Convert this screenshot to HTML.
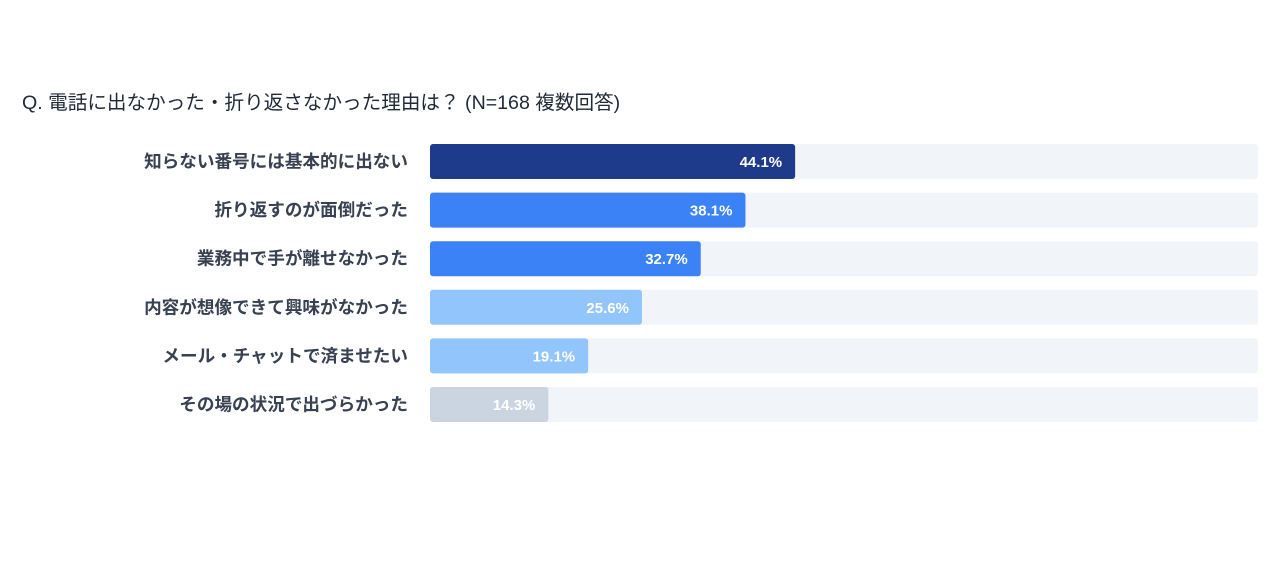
<!DOCTYPE html>
<html><head><meta charset="utf-8"><style>
body{margin:0;width:1280px;height:561px;background:#fff;font-family:"Liberation Sans","Noto Sans CJK JP",sans-serif;overflow:hidden;position:relative}
#title{position:absolute;left:22px;top:86px;font-size:19.6px;color:#1f2937;white-space:nowrap}
</style></head><body>
<div id="title">Q. 電話に出なかった・折り返さなかった理由は？ (N=168 複数回答)</div>
<svg id="chart" width="1280" height="561" style="position:absolute;left:0;top:0"></svg>
<script>
const categories=["知らない番号には基本的に出ない","折り返すのが面倒だった","業務中で手が離せなかった","内容が想像できて興味がなかった","メール・チャットで済ませたい","その場の状況で出づらかった"];
const values=[44.1,38.1,32.7,25.6,19.1,14.3];
const colors=["#1e3a8a","#3b82f6","#3b82f6","#93c5fd","#93c5fd","#cbd5e1"];
const NS="http://www.w3.org/2000/svg";
const svg=document.getElementById('chart');
const x0=430,x1=1258,maxV=100,top0=144,step=48.6,bh=35;
const xs=v=>x0+(x1-x0)*v/maxV;
const ys=i=>top0+i*step;
function mk(t,a){const e=document.createElementNS(NS,t);for(const k in a)e.setAttribute(k,a[k]);svg.appendChild(e);return e;}
categories.forEach((c,i)=>{
  const y=ys(i);
  const tr=mk('rect',{x:x0,y:y,width:x1-x0,height:bh,rx:3,fill:'#f1f5f9'});
  
  
  const b=mk('rect',{x:x0,y:y,width:xs(values[i])-x0,height:bh,rx:3,fill:colors[i]});
  
  
  const l=mk('text',{x:408,y:y+bh/2+6,'text-anchor':'end','font-size':17.6,'font-weight':'bold',fill:'#374151'});
  l.textContent=c;
  
  
  const v=mk('text',{x:xs(values[i])-13,y:y+bh/2+5.5,'text-anchor':'end','font-size':15,'font-weight':'bold',fill:'#fff'});
  v.textContent=values[i].toFixed(1)+'%';
  
  
});
</script>
</body></html>
